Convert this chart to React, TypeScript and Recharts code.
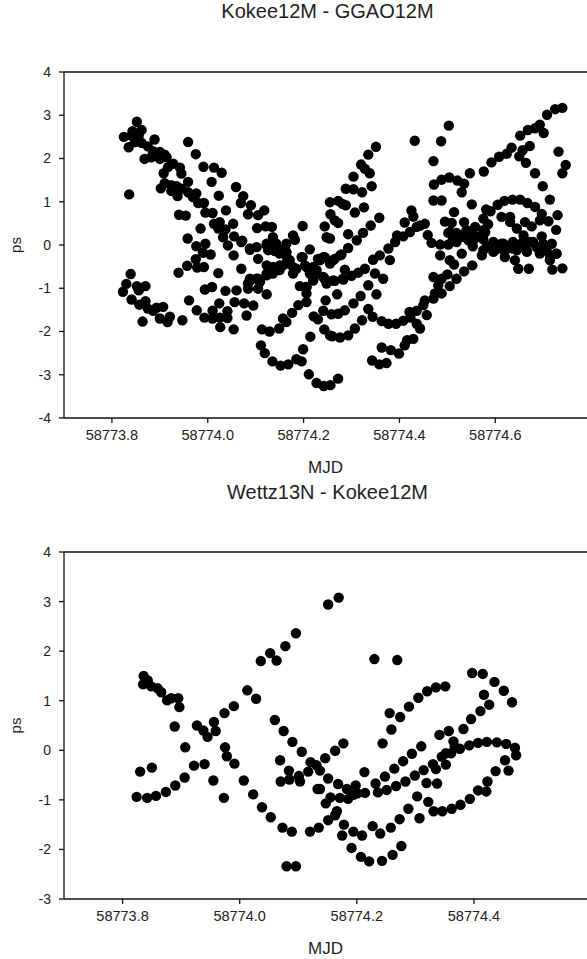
import { ScatterChart, Scatter, XAxis, YAxis, ReferenceLine, Label } from 'recharts';

type Pt = [number, number]; // [MJD, ps]

const topTitle = 'Kokee12M - GGAO12M';
const bottomTitle = 'Wettz13N - Kokee12M';
const topXTicks = [58773.8, 58774.0, 58774.2, 58774.4, 58774.6];
const topYTicks = [-4, -3, -2, -1, 0, 1, 2, 3, 4];
const bottomXTicks = [58773.8, 58774.0, 58774.2, 58774.4];
const bottomYTicks = [-3, -2, -1, 0, 1, 2, 3, 4];

const topDescending: Pt[] = [
  [58773.852, 2.85], [58773.862, 2.66], [58773.843, 2.63], [58773.825, 2.5], [58773.841, 2.53], [58773.856, 2.53],
  [58773.889, 2.44], [58773.835, 2.26], [58773.848, 2.38], [58773.862, 2.36], [58773.875, 2.28], [58773.868, 1.99],
  [58773.886, 2.17], [58773.9, 2.15], [58773.91, 2.09], [58773.882, 2.03], [58773.9, 1.99], [58773.914, 2.03],
  [58773.928, 1.88], [58773.917, 1.8], [58773.942, 1.79], [58773.908, 1.66], [58773.945, 1.65], [58773.959, 1.46],
  [58773.91, 1.43], [58773.902, 1.31], [58773.924, 1.38], [58773.935, 1.36], [58773.924, 1.25], [58773.945, 1.3],
  [58773.937, 1.13], [58773.959, 1.22], [58773.976, 1.19], [58773.969, 1.11], [58773.98, 0.97], [58773.992, 0.97],
  [58773.995, 0.75], [58774.01, 0.74], [58773.94, 0.7], [58773.954, 0.68], [58773.985, 0.38], [58773.958, 0.15],
  [58773.836, 1.17], [58774.013, 0.49], [58774.025, 0.53], [58774.022, 0.38], [58774.037, 0.36], [58774.053, 0.49],
  [58774.032, 0.18], [58774.042, -0.01], [58773.976, -0.03], [58773.995, 0.03], [58773.99, -0.18], [58774.006, -0.22],
  [58773.975, -0.33], [58774.054, -0.24],
];

const topSecondStrand: Pt[] = [
  [58773.959, 2.38], [58773.975, 2.1], [58773.991, 1.81], [58774.013, 1.79], [58774.029, 1.67], [58774.008, 1.46],
  [58774.023, 1.14], [58774.059, 1.34], [58774.074, 1.13], [58774.069, 0.97], [58774.09, 0.92], [58774.118, 0.8],
  [58774.105, 0.69], [58774.084, 0.71], [58774.038, 0.8], [58774.103, 0.39], [58774.121, 0.43], [58774.134, 0.42],
  [58774.198, 0.44], [58774.055, 0.2], [58774.072, 0.1], [58774.088, -0.11], [58774.102, -0.05], [58774.123, -0.01],
  [58774.136, 0.18], [58774.143, 0.03], [58774.126, -0.12], [58774.14, -0.14], [58774.154, -0.12], [58774.164, 0.03],
  [58774.178, 0.22], [58774.182, 0.12], [58774.164, -0.18], [58774.105, -0.32], [58774.166, -0.32], [58774.213, -0.1],
  [58774.198, -0.28], [58774.23, -0.32], [58774.241, -0.28], [58774.244, 0.43], [58774.255, 0.99], [58774.256, 0.71],
  [58774.248, 0.18], [58774.255, 0.15],
];

const topLowerMiddle: Pt[] = [
  [58773.957, -0.48], [58773.939, -0.64], [58773.978, -0.52], [58773.992, -0.51], [58774.022, -0.65], [58774.07, -0.55],
  [58774.123, -0.47], [58774.088, -0.78], [58774.102, -0.78], [58774.084, -0.89], [58774.109, -0.85], [58774.084, -1.01],
  [58774.105, -1.01], [58774.123, -0.7], [58774.06, -1.05], [58774.037, -1.06], [58773.994, -1.03], [58774.009, -0.97],
  [58774.123, -1.14], [58773.961, -1.28], [58773.977, -1.51], [58774.024, -1.35], [58774.056, -1.32], [58774.076, -1.35],
  [58774.095, -1.4], [58774.01, -1.52], [58774.041, -1.53], [58773.993, -1.68], [58774.01, -1.7], [58774.025, -1.68],
  [58774.041, -1.69], [58774.081, -1.63], [58774.026, -1.9], [58774.054, -1.95], [58774.113, -1.95], [58774.129, -2.0],
  [58774.149, -1.93], [58774.157, -1.7], [58774.164, -1.78], [58774.176, -1.57], [58774.189, -1.39], [58774.206, -1.32],
  [58774.206, -1.12], [58774.192, -0.95], [58774.221, -1.65], [58774.23, -1.72], [58774.241, -1.52], [58774.246, -1.28],
  [58774.243, -1.95], [58774.255, -2.09], [58774.214, -2.12], [58774.111, -2.32], [58774.119, -2.5], [58774.135, -2.69],
  [58774.152, -2.79], [58774.168, -2.76], [58774.185, -2.64], [58774.196, -2.69], [58774.199, -2.41], [58774.211, -2.99],
  [58774.227, -3.19], [58774.242, -3.26], [58774.256, -3.24],
];

const topLeftCluster: Pt[] = [
  [58773.839, -0.67], [58773.83, -0.9], [58773.852, -0.95], [58773.87, -0.95], [58773.823, -1.08], [58773.856, -1.05],
  [58773.841, -1.26], [58773.857, -1.38], [58773.87, -1.3], [58773.875, -1.47], [58773.886, -1.52], [58773.893, -1.45],
  [58773.907, -1.43], [58773.9, -1.7], [58773.921, -1.66], [58773.916, -1.78], [58773.864, -1.77], [58773.947, -1.74],
];

const topMiddleKnot: Pt[] = [
  [58774.136, -0.51], [58774.15, -0.47], [58774.164, -0.43], [58774.178, -0.51], [58774.178, -0.66], [58774.196, -0.28],
  [58774.203, -0.47], [58774.22, -0.51], [58774.234, -0.35], [58774.244, -0.28], [58774.255, -0.43], [58774.15, -0.58],
  [58774.136, -0.66], [58774.213, -0.66], [58774.227, -0.66], [58774.241, -0.74], [58774.22, -0.82], [58774.248, -0.89],
  [58774.206, -0.97],
];

const topKnotBand: Pt[] = [
  [58774.088, -0.82], [58774.105, -0.78], [58774.123, -0.66], [58774.14, -0.55], [58774.157, -0.47], [58774.171, -0.35],
  [58774.164, -0.16], [58774.14, 0.03], [58774.123, 0.03], [58774.15, -0.2], [58774.185, -0.55], [58774.206, -0.51],
  [58774.227, -0.58], [58774.22, -0.78], [58774.206, -0.97], [58774.244, -0.78], [58774.262, -0.82], [58774.282, -0.78],
  [58774.088, -0.08], [58774.07, 0.07], [58774.234, -0.35], [58774.262, -0.35], [58774.276, -0.24],
];

const topRisingLeft: Pt[] = [
  [58774.351, 2.27], [58774.335, 2.09], [58774.32, 1.86], [58774.328, 1.76], [58774.338, 1.66], [58774.304, 1.58],
  [58774.288, 1.3], [58774.304, 1.29], [58774.322, 1.22], [58774.342, 1.36], [58774.272, 1.02], [58774.281, 0.95],
  [58774.288, 0.92], [58774.307, 0.75], [58774.326, 0.87], [58774.358, 0.63], [58774.34, 0.45], [58774.324, 0.28],
  [58774.311, 0.11], [58774.293, 0.25], [58774.293, -0.07], [58774.265, 0.57], [58774.272, 0.51], [58774.279, -0.22],
  [58774.265, -0.32], [58774.345, -0.34], [58774.359, -0.24], [58774.38, -0.35], [58774.425, 0.8], [58774.429, 0.66],
  [58774.411, 0.52], [58774.453, 0.49], [58774.443, 0.45], [58774.436, 0.42], [58774.422, 0.3], [58774.408, 0.2],
  [58774.395, 0.22], [58774.391, 0.07], [58774.377, -0.08],
];

const topUpperRight: Pt[] = [
  [58774.432, 2.41], [58774.487, 2.4], [58774.503, 2.76], [58774.471, 1.94], [58774.472, 1.4], [58774.488, 1.51],
  [58774.504, 1.56], [58774.521, 1.49], [58774.535, 1.42], [58774.53, 1.22], [58774.547, 1.66], [58774.576, 1.7],
  [58774.592, 1.91], [58774.608, 2.04], [58774.624, 2.11], [58774.634, 2.25], [58774.652, 2.53], [58774.668, 2.66],
  [58774.683, 2.7], [58774.693, 2.78], [58774.701, 2.59], [58774.708, 3.01], [58774.725, 3.14], [58774.74, 3.17],
  [58774.672, 2.29], [58774.657, 2.19], [58774.65, 2.05], [58774.664, 1.9], [58774.683, 1.66], [58774.699, 1.36],
  [58774.714, 1.05], [58774.732, 2.16], [58774.747, 1.85], [58774.74, 1.66], [58774.73, 0.69],
];

const topRightMass: Pt[] = [
  [58774.471, 1.03], [58774.488, 1.03], [58774.551, 0.94], [58774.514, 0.76], [58774.605, 0.93], [58774.619, 1.02],
  [58774.636, 1.05], [58774.652, 1.05], [58774.667, 0.97], [58774.683, 0.88], [58774.697, 0.72], [58774.711, 0.55],
  [58774.727, 0.35], [58774.693, 0.57], [58774.581, 0.82], [58774.59, 0.78], [58774.575, 0.61], [58774.585, 0.48],
  [58774.579, 0.3], [58774.575, 0.13], [58774.613, 0.65], [58774.631, 0.65], [58774.631, 0.53], [58774.645, 0.38],
  [58774.662, 0.53], [58774.676, 0.43], [58774.659, 0.22], [58774.697, 0.2], [58774.718, 0.03], [58774.495, 0.54],
  [58774.509, 0.51], [58774.535, 0.53], [58774.558, 0.42], [58774.502, 0.28], [58774.519, 0.28], [58774.54, 0.34],
  [58774.561, 0.19], [58774.533, 0.19], [58774.459, 0.23], [58774.467, 0.05], [58774.485, 0.01], [58774.502, 0.01],
  [58774.519, 0.07], [58774.544, 0.11], [58774.553, -0.03], [58774.53, -0.2], [58774.485, -0.24], [58774.505, -0.35],
  [58774.572, -0.24], [58774.596, 0.07], [58774.613, 0.03], [58774.582, -0.05], [58774.599, -0.12], [58774.624, -0.09],
  [58774.638, 0.03], [58774.655, 0.03], [58774.672, 0.07], [58774.686, -0.05], [58774.707, -0.12], [58774.728, -0.2],
  [58774.645, -0.12], [58774.666, -0.16], [58774.693, -0.2], [58774.714, -0.35], [58774.62, -0.28], [58774.641, -0.35],
];

const topRightBand: Pt[] = [
  [58774.575, -0.12], [58774.592, -0.01], [58774.617, 0.03], [58774.637, 0.07], [58774.658, 0.07], [58774.679, 0.07],
  [58774.7, 0.03], [58774.637, -0.08], [58774.665, -0.12], [58774.693, -0.16], [58774.714, -0.24], [58774.617, -0.12],
  [58774.596, -0.16], [58774.727, -0.2], [58774.512, 0.15], [58774.533, 0.22], [58774.554, 0.11], [58774.505, 0.3],
  [58774.547, 0.3], [58774.575, 0.34],
];

const topLowerRight: Pt[] = [
  [58774.514, -0.45], [58774.552, -0.47], [58774.535, -0.61], [58774.519, -0.78], [58774.5, -0.68], [58774.488, -0.78],
  [58774.471, -0.74], [58774.505, -0.95], [58774.488, -1.12], [58774.481, -0.93], [58774.471, -1.24], [58774.453, -1.28],
  [58774.474, -1.12], [58774.45, -1.39], [58774.457, -1.62], [58774.436, -1.52], [58774.421, -1.55], [58774.423, -1.68],
  [58774.436, -1.82], [58774.443, -1.93], [58774.648, -0.55], [58774.67, -0.55], [58774.719, -0.57], [58774.74, -0.54],
  [58774.328, -0.55], [58774.314, -0.64], [58774.3, -0.71], [58774.286, -0.57], [58774.248, -0.83], [58774.265, -0.83],
  [58774.283, -0.8], [58774.349, -0.66], [58774.366, -0.78], [58774.335, -0.93], [58774.352, -1.14], [58774.319, -1.18],
  [58774.304, -1.35], [58774.286, -1.51], [58774.272, -1.59], [58774.258, -1.6], [58774.27, -1.14], [58774.335, -1.48],
  [58774.344, -1.66], [58774.363, -1.76], [58774.377, -1.82], [58774.393, -1.82], [58774.408, -1.75], [58774.322, -1.74],
  [58774.307, -1.93], [58774.293, -2.09], [58774.276, -2.14], [58774.26, -2.11], [58774.363, -2.37], [58774.382, -2.43],
  [58774.399, -2.51], [58774.411, -2.32], [58774.429, -2.17], [58774.416, -2.2], [58774.343, -2.67], [58774.358, -2.76],
  [58774.373, -2.73], [58774.272, -3.09],
];

const bottomLeft: Pt[] = [
  [58773.836, 1.5], [58773.843, 1.41], [58773.835, 1.33], [58773.849, 1.29], [58773.86, 1.25], [58773.866, 1.17],
  [58773.876, 1.01], [58773.883, 1.05], [58773.895, 1.05], [58773.897, 0.87], [58773.889, 0.48], [58773.907, 0.06],
  [58773.83, -0.43], [58773.85, -0.35], [58773.824, -0.94], [58773.842, -0.96], [58773.857, -0.92], [58773.874, -0.84],
  [58773.89, -0.71], [58773.906, -0.55], [58773.922, -0.31], [58773.94, -0.28], [58773.955, -0.61], [58773.973, -0.96],
  [58773.927, 0.5], [58773.938, 0.4], [58773.945, 0.27], [58773.956, 0.57], [58773.959, 0.39], [58773.974, 0.75],
  [58773.99, 0.89], [58774.013, 1.21], [58774.028, 1.04], [58774.036, 1.8], [58774.052, 1.96], [58774.063, 1.81],
  [58774.078, 2.1], [58774.096, 2.36], [58773.975, 0.06], [58773.978, -0.12], [58773.991, -0.27],
];

const bottomMiddle: Pt[] = [
  [58774.007, -0.61], [58774.023, -0.89], [58774.038, -1.15], [58774.053, -1.35], [58774.073, -1.56], [58774.089, -1.64],
  [58774.12, -1.64], [58774.135, -1.56], [58774.151, -1.41], [58774.08, -2.34], [58774.096, -2.34], [58774.06, 0.61],
  [58774.075, 0.39], [58774.09, 0.17], [58774.106, -0.03], [58774.069, -0.2], [58774.084, -0.41], [58774.07, -0.63],
  [58774.085, -0.59], [58774.101, -0.52], [58774.103, -0.63], [58774.117, -0.43], [58774.121, -0.24], [58774.131, -0.3],
  [58774.137, -0.41], [58774.146, -0.16], [58774.133, -0.78], [58774.151, -0.57], [58774.147, -1.07], [58774.151, 2.94],
  [58774.169, 3.08], [58774.137, -0.78],
];

const bottomUpperRight: Pt[] = [
  [58774.23, 1.84], [58774.269, 1.82], [58774.397, 1.56], [58774.415, 1.54], [58774.435, 1.38], [58774.451, 1.2],
  [58774.465, 0.97], [58774.417, 1.12], [58774.426, 0.92], [58774.411, 0.79], [58774.395, 0.63], [58774.382, 0.43],
  [58774.357, 0.39], [58774.341, 0.31], [58774.351, 1.29], [58774.335, 1.27], [58774.32, 1.19], [58774.305, 1.06],
  [58774.289, 0.88], [58774.274, 0.67], [58774.256, 0.75], [58774.259, 0.42], [58774.244, 0.14],
];

const bottomMiddleRight: Pt[] = [
  [58774.31, 0.08], [58774.294, -0.07], [58774.279, -0.22], [58774.264, -0.37], [58774.248, -0.53], [58774.232, -0.67],
  [58774.236, -0.85], [58774.251, -0.8], [58774.267, -0.72], [58774.283, -0.63], [58774.299, -0.51], [58774.314, -0.4],
  [58774.33, -0.28], [58774.335, -0.38], [58774.345, -0.13], [58774.352, -0.06], [58774.361, -0.06], [58774.352, -0.29],
  [58774.365, 0.18], [58774.367, 0.07], [58774.376, 0.03], [58774.392, 0.1], [58774.407, 0.15], [58774.422, 0.17],
  [58774.439, 0.16], [58774.455, 0.13], [58774.47, 0.05], [58774.472, -0.1], [58774.453, -0.2],
];

const bottomLowerRight: Pt[] = [
  [58774.437, -0.42], [58774.459, -0.41], [58774.423, -0.63], [58774.407, -0.81], [58774.421, -0.83], [58774.393, -0.98],
  [58774.377, -1.1], [58774.362, -1.18], [58774.346, -1.23], [58774.331, -1.23], [58774.322, -1.04], [58774.303, -0.93],
  [58774.319, -0.66], [58774.337, -0.67], [58774.288, -1.18], [58774.307, -1.37], [58774.273, -1.39], [58774.258, -1.56],
  [58774.24, -1.68], [58774.227, -1.53], [58774.276, -1.93], [58774.261, -2.11], [58774.243, -2.23], [58774.221, -2.24],
  [58774.207, -2.15], [58774.191, -1.97], [58774.175, -1.72], [58774.209, -1.72], [58774.194, -1.64], [58774.178, -1.5],
  [58774.166, -1.23], [58774.163, -1.31], [58774.155, -0.95], [58774.171, -0.96], [58774.185, -0.98], [58774.194, -0.9],
  [58774.198, -0.71], [58774.183, -0.78], [58774.201, -0.87], [58774.214, -0.86], [58774.213, -0.44], [58774.168, -0.68],
  [58774.163, -0.01], [58774.177, 0.14],
];

const topGroups = [topDescending, topSecondStrand, topLowerMiddle, topLeftCluster, topMiddleKnot, topKnotBand, topRisingLeft, topUpperRight, topRightMass, topRightBand, topLowerRight];
const bottomGroups = [bottomLeft, bottomMiddle, bottomUpperRight, bottomMiddleRight, bottomLowerRight];

const FONT = '"Liberation Sans", Arial, sans-serif';
const INK = '#111';

const dot = (p: any) => <circle cx={p.cx} cy={p.cy} r={5.2} fill="#000" />;

function Panel({ top, height, groups, xDomain, yDomain, xTicks, yTicks }: {
  top: number; height: number; groups: Pt[][]; xDomain: number[]; yDomain: number[]; xTicks: number[]; yTicks: number[];
}) {
  return (
    <div style={{ position: 'absolute', left: 0, top }}>
      <ScatterChart width={587} height={height} margin={{ top: 72, right: 0, bottom: 0, left: 0 }}>
        <XAxis
          type="number"
          dataKey="x"
          domain={xDomain}
          ticks={xTicks}
          height={60}
          tickSize={5}
          tickMargin={7}
          interval={0}
          allowDecimals
          tickFormatter={(v: number) => v.toFixed(1)}
          stroke={INK}
          strokeWidth={1.3}
          tick={{ fill: '#222', fontSize: 14.5, fontFamily: FONT }}
        >
          <Label value="MJD" position="insideBottom" offset={5} fill="#222" fontSize={17} fontFamily={FONT} />
        </XAxis>
        <YAxis
          type="number"
          dataKey="y"
          domain={yDomain}
          ticks={yTicks}
          width={64}
          tickSize={5}
          tickMargin={8}
          interval={0}
          stroke={INK}
          strokeWidth={1.3}
          tick={{ fill: '#222', fontSize: 14, fontFamily: FONT }}
        >
          <Label value="ps" angle={-90} position="insideLeft" offset={16} textAnchor="middle" fill="#222" fontSize={15} fontFamily={FONT} />
        </YAxis>
        <ReferenceLine y={yDomain[1]} stroke={INK} strokeWidth={1.3} />
        {groups.map((g, i) => (
          <Scatter key={i} data={g.map(([x, y]) => ({ x, y }))} shape={dot} isAnimationActive={false} />
        ))}
      </ScatterChart>
    </div>
  );
}

const titleStyle = (top: number) => ({
  position: 'absolute' as const,
  left: 64,
  width: 527,
  top,
  textAlign: 'center' as const,
  fontFamily: FONT,
  fontSize: 20,
  lineHeight: '23px',
  color: '#222',
});

export default function App() {
  return (
    <div style={{ position: 'absolute', left: 0, top: 0, width: 587, height: 959, overflow: 'hidden', background: '#fff' }}>
      <div style={titleStyle(0)}>{topTitle}</div>
      <Panel top={0} height={478} groups={topGroups} xDomain={[58773.7, 58774.7914]} yDomain={[-4, 4]} xTicks={topXTicks} yTicks={topYTicks} />
      <div style={titleStyle(481)}>{bottomTitle}</div>
      <Panel top={480} height={479} groups={bottomGroups} xDomain={[58773.7, 58774.593]} yDomain={[-3, 4]} xTicks={bottomXTicks} yTicks={bottomYTicks} />
    </div>
  );
}
